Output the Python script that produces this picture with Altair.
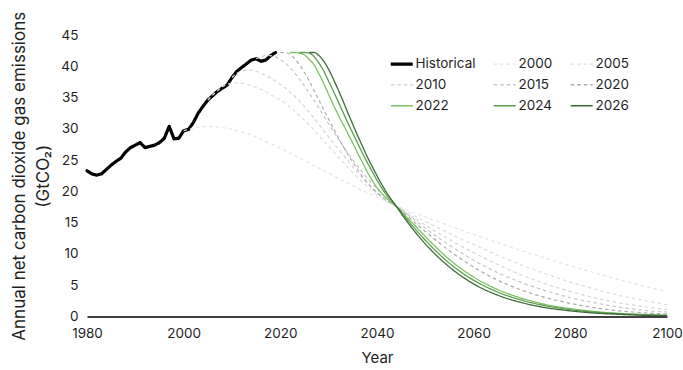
import altair as alt
import pandas as pd

# Observed annual net CO2 emissions (GtCO2)
hist_years = list(range(1980, 2020))
hist_values = [
    23.3, 22.8, 22.6, 22.8, 23.5, 24.2, 24.8, 25.3, 26.3, 27.0,
    27.4, 27.8, 27.0, 27.2, 27.4, 27.8, 28.5, 30.4, 28.4, 28.5,
    29.7, 29.9, 31.0, 32.5, 33.6, 34.6, 35.3, 36.0, 36.5, 37.0,
    38.2, 39.2, 39.8, 40.4, 41.0, 41.2, 40.8, 41.0, 41.7, 42.2,
]

# Pathways by the year mitigation starts
p2000_years = [2000, 2002, 2004, 2006, 2008, 2010, 2012, 2014, 2016, 2018, 2020, 2022, 2024, 2026,
               2028, 2030, 2032, 2034, 2036, 2038, 2040, 2042, 2044, 2046, 2048, 2050, 2055,
               2060, 2065, 2070, 2075, 2080, 2085, 2090, 2095, 2100]
p2000_values = [29.7, 30.1, 30.35, 30.35, 30.2, 29.9, 29.5, 29.0, 28.3, 27.6, 26.9, 26.1, 25.3, 24.5,
                23.7, 22.9, 22.1, 21.3, 20.5, 19.8, 19.1, 18.4, 17.7, 17.1, 16.5, 15.9, 14.5,
                13.1, 11.8, 10.5, 9.3, 8.1, 7.0, 5.9, 4.9, 4.0]

p2005_years = [2005, 2006, 2007, 2008, 2009, 2010, 2011, 2012, 2014, 2016, 2018, 2020, 2022, 2024,
               2026, 2028, 2030, 2032, 2034, 2036, 2038, 2040, 2042, 2044, 2046, 2048, 2050,
               2055, 2060, 2065, 2070, 2075, 2080, 2085, 2090, 2095, 2100]
p2005_values = [34.6, 35.4, 36.1, 36.7, 37.1, 37.3, 37.35, 37.3, 36.9, 36.3, 35.5, 34.6, 33.5, 32.1,
                30.6, 28.9, 27.2, 25.5, 23.8, 22.2, 20.8, 19.5, 18.4, 17.6, 16.8, 16.0, 15.2,
                13.3, 11.5, 9.8, 8.2, 6.8, 5.5, 4.4, 3.4, 2.6, 1.9]

p2010_years = [2010, 2011, 2012, 2013, 2014, 2015, 2016, 2018, 2020, 2022, 2024, 2026, 2028, 2030,
               2032, 2034, 2036, 2038, 2040, 2042, 2044, 2046, 2048, 2050, 2055, 2060, 2065,
               2070, 2075, 2080, 2085, 2090, 2095, 2100]
p2010_values = [38.2, 38.9, 39.2, 39.4, 39.4, 39.2, 38.9, 38.1, 37.1, 35.9, 34.4, 32.6, 30.7, 28.7,
                26.8, 24.9, 23.0, 21.3, 19.8, 18.6, 17.6, 16.6, 15.6, 14.6, 12.3, 10.2, 8.3,
                6.6, 5.2, 4.0, 3.0, 2.2, 1.6, 1.1]

p2015_years = [2015, 2016, 2017, 2018, 2019, 2020, 2022, 2024, 2026, 2028, 2030, 2032, 2034, 2036,
               2038, 2040, 2042, 2044, 2046, 2048, 2050, 2055, 2060, 2065, 2070, 2075, 2080,
               2085, 2090, 2095, 2100]
p2015_values = [41.2, 41.5, 41.7, 41.7, 41.5, 41.1, 39.8, 37.9, 35.7, 33.3, 30.8, 28.4, 26.1, 24.0,
                22.1, 20.4, 18.9, 17.7, 16.5, 15.3, 14.1, 11.4, 9.0, 7.0, 5.4, 4.1, 3.0,
                2.2, 1.5, 1.0, 0.7]

p2020_years = [2020, 2021, 2022, 2023, 2024, 2025, 2026, 2027, 2028, 2029, 2030, 2032, 2034, 2036,
               2038, 2040, 2042, 2044, 2046, 2048, 2050, 2055, 2060, 2065, 2070, 2075, 2080,
               2085, 2090, 2095, 2100]
p2020_values = [42.2, 42.2, 41.9, 41.2, 40.2, 39.0, 37.6, 36.1, 34.6, 33.0, 31.5, 28.6, 25.9, 23.5,
                21.4, 19.8, 18.6, 17.6, 16.3, 14.9, 13.6, 10.5, 7.9, 5.8, 4.2, 3.0, 2.1,
                1.4, 0.9, 0.6, 0.4]

p2022_years = [2022, 2023, 2024, 2025, 2026, 2027, 2028, 2029, 2030, 2031, 2032, 2033, 2034, 2035,
               2036, 2037, 2038, 2040, 2042, 2044, 2046, 2048, 2050, 2055, 2060, 2065, 2070,
               2075, 2080, 2085, 2090, 2095, 2100]
p2022_values = [42.2, 42.2, 42.1, 41.8, 41.1, 40.2, 38.8, 37.2, 35.5, 33.8, 32.2, 30.7, 29.2, 27.7,
                26.1, 24.6, 23.1, 20.6, 18.9, 17.6, 16.0, 14.4, 12.8, 9.1, 6.3, 4.3, 2.9,
                1.9, 1.25, 0.8, 0.5, 0.32, 0.2]

p2024_years = [2024, 2025, 2026, 2027, 2028, 2029, 2030, 2031, 2032, 2033, 2034, 2035, 2036, 2037,
               2038, 2039, 2040, 2042, 2044, 2046, 2048, 2050, 2055, 2060, 2065, 2070, 2075,
               2080, 2085, 2090, 2095, 2100]
p2024_values = [42.2, 42.2, 42.1, 41.5, 40.5, 39.2, 37.6, 36.0, 34.3, 32.6, 30.9, 29.3, 27.7, 26.1,
                24.6, 23.2, 21.8, 19.4, 17.6, 15.7, 13.9, 12.2, 8.5, 5.8, 3.9, 2.6, 1.7,
                1.1, 0.7, 0.45, 0.28, 0.17]

p2026_years = [2026, 2027, 2028, 2029, 2030, 2031, 2032, 2033, 2034, 2035, 2036, 2037, 2038, 2039,
               2040, 2042, 2044, 2046, 2048, 2050, 2055, 2060, 2065, 2070, 2075, 2080, 2085,
               2090, 2095, 2100]
p2026_values = [42.2, 42.2, 41.7, 40.8, 39.5, 37.9, 36.2, 34.4, 32.5, 30.7, 28.9, 27.2, 25.5, 24.0,
                22.5, 19.8, 17.6, 15.4, 13.4, 11.6, 7.9, 5.2, 3.4, 2.2, 1.4, 0.9, 0.55,
                0.35, 0.2, 0.12]

series_order = ["Historical", "2000", "2005", "2010", "2015", "2020", "2022", "2024", "2026"]
series_colors = ["#000000", "#e4e4e4", "#dedede", "#d6d6d6", "#c6c6c6", "#ababab",
                 "#7cc262", "#5c9c4f", "#3d6a37"]
series_dashes = [[1, 0], [3.5, 3], [3.5, 3], [3.5, 3], [3.5, 3], [3.5, 3], [1, 0], [1, 0], [1, 0]]


def frame(name, years, values):
    return pd.DataFrame({"year": years, "value": values, "series": name})


hist_df = frame("Historical", hist_years, hist_values)
dashed_df = pd.concat([
    frame("2000", p2000_years, p2000_values),
    frame("2005", p2005_years, p2005_values),
    frame("2010", p2010_years, p2010_values),
    frame("2015", p2015_years, p2015_values),
    frame("2020", p2020_years, p2020_values),
])
green_df = pd.concat([
    frame("2022", p2022_years, p2022_values),
    frame("2024", p2024_years, p2024_values),
    frame("2026", p2026_years, p2026_values),
])

FONT = "Inter"
TEXT = "#1f1f1f"

legend = alt.Legend(
    title=None,
    orient="none",
    direction="horizontal",
    gridAlign="each",
    legendX=308,
    legendY=22,
    columns=3,
    symbolType="stroke",
    symbolSize=484,
    symbolStrokeWidth={"expr": "datum.value === 'Historical' ? 3.2 : 1.3"},
    labelFont=FONT,
    labelFontSize=13.5,
    labelColor=TEXT,
    labelOffset=7,
    columnPadding=15,
    rowPadding=6,
)

x_enc = alt.X(
    "year:Q",
    scale=alt.Scale(domain=[1980, 2100], nice=False, zero=False),
    axis=alt.Axis(
        values=[1980, 2000, 2020, 2040, 2060, 2080, 2100],
        format="d",
        labelFlush=False,
        domain=True,
        domainColor="#000000",
        domainWidth=1.4,
        labelPadding=10,
        title="Year",
        titleX=290,
        titleY=46,
        titleBaseline="alphabetic",
        titleAlign="center",
    ),
)
y_enc = alt.Y(
    "value:Q",
    scale=alt.Scale(domain=[0, 45], nice=False),
    axis=alt.Axis(
        values=list(range(0, 50, 5)),
        domain=False,
        labelPadding=9,
        title=["Annual net carbon dioxide gas emissions", "(GtCO\u2082)"],
        titleAngle=-90,
        titleX=-63,
        titleY=140.75,
        titleAlign="center",
        titleBaseline="alphabetic",
        titleLineHeight=24,
        titleFontSize=17,
    ),
)
color_enc = alt.Color("series:N", scale=alt.Scale(domain=series_order, range=series_colors), legend=legend)
dash_enc = alt.StrokeDash("series:N", scale=alt.Scale(domain=series_order, range=series_dashes), legend=legend)

historical = alt.Chart(hist_df).mark_line(
    strokeWidth=3.2, strokeJoin="round", strokeCap="round"
).encode(x=x_enc, y=y_enc, color=color_enc, strokeDash=dash_enc)

dashed = alt.Chart(dashed_df).mark_line(
    strokeWidth=1.2, interpolate="monotone"
).encode(x=x_enc, y=y_enc, color=color_enc, strokeDash=dash_enc)

green = alt.Chart(green_df).mark_line(
    strokeWidth=1.3, interpolate="monotone"
).encode(x=x_enc, y=y_enc, color=color_enc, strokeDash=dash_enc)

chart = (
    alt.layer(historical, dashed, green)
    .properties(
        width=580,
        height=281.5,
        autosize=alt.AutoSizeParams(type="none"),
        padding={"left": 87, "top": 35, "right": 16, "bottom": 53.5},
        background="white",
    )
    .configure_view(stroke=None)
    .configure_axis(
        grid=False,
        ticks=False,
        tickSize=0,
        labelFont=FONT,
        labelFontSize=13.5,
        labelColor=TEXT,
        titleFont=FONT,
        titleFontSize=15,
        titleFontWeight="normal",
        titleColor=TEXT,
    )
)

chart.save("out.html", embed_options={"renderer": "svg", "actions": False})
